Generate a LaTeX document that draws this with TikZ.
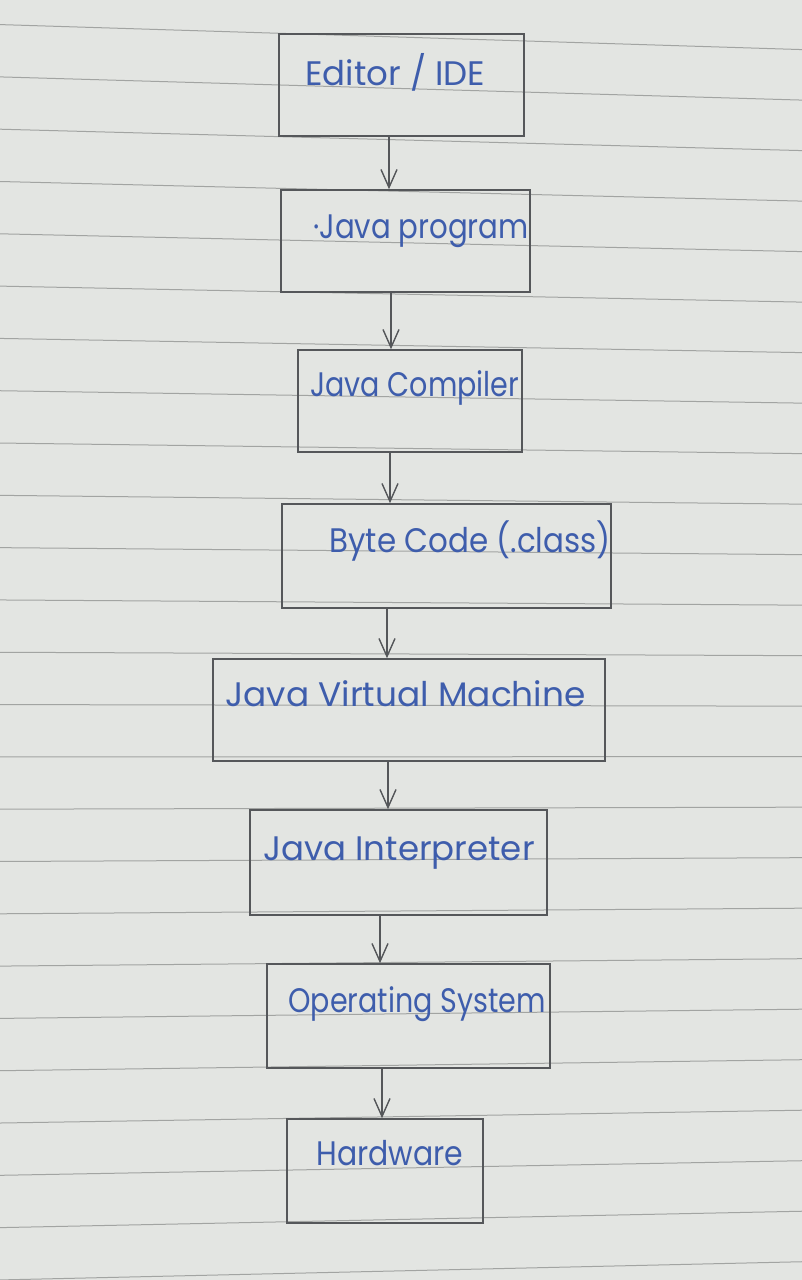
\documentclass[tikz,border=0pt]{standalone}
\usepackage{fontspec}
\usepackage{graphicx}
\setmainfont{Poppins}
\usetikzlibrary{arrows.meta,fit}
\definecolor{paper}{HTML}{E3E5E2}
\definecolor{ruling}{HTML}{A2A4A2}
\definecolor{pencil}{HTML}{55575A}
\definecolor{ink}{HTML}{3E5DAC}
\newcommand{\squeezed}[2]{\scalebox{#1}[1]{#2}}
\begin{document}
\begin{tikzpicture}[x=0.5pt,y=-0.5pt,
  box/.style={draw=pencil, line width=0.8pt, inner sep=0pt},
  inktext/.style={text=ink, font=\fontsize{17}{19}\selectfont, anchor=base west, inner sep=0pt},
  flow/.style={draw=pencil, line width=0.7pt, -{Straight Barb[length=9pt,width=8pt]}}]

% sheet of ruled paper
\fill[paper] (0,0) rectangle (802,1280);
\useasboundingbox (0,0) rectangle (802,1280);
\foreach \k in {0,...,24}{
  \pgfmathsetmacro\d{25-1.8*\k}
  \pgfmathsetmacro\yl{33+51.7*\k-\d*270/802}
  \draw[ruling, line width=0.5pt] (0,\yl) -- (802,\yl+\d);
}

% stages of the pipeline
\node[box, fit={(279,34) (524,136)}] (b1) {};
\node[box, fit={(281,190) (530,292)}] (b2) {};
\node[box, fit={(298,350) (522,452)}] (b3) {};
\node[box, fit={(282,504) (611,608)}] (b4) {};
\node[box, fit={(213,659) (605,761)}] (b5) {};
\node[box, fit={(250,810) (547,915)}] (b6) {};
\node[box, fit={(267,964) (550,1068)}] (b7) {};
\node[box, fit={(287,1119) (483,1223)}] (b8) {};

\node[inktext] (t1) at (305,85) {Editor / IDE};
\node[inktext] (t2) at (313,238) {\squeezed{0.86}{·Java program}};
\node[inktext] (t3) at (310,396) {\squeezed{0.84}{Java Compiler}};
\node[inktext] (t4) at (329,552) {\squeezed{0.91}{Byte Code (.class)}};
\node[inktext] (t5) at (225,706) {\squeezed{1.01}{Java Virtual Machine}};
\node[inktext] (t6) at (263,860) {Java Interpreter};
\node[inktext] (t7) at (288,1012) {\squeezed{0.84}{Operating System}};
\node[inktext] (t8) at (316,1165) {\squeezed{0.88}{Hardware}};

% connectors
\coordinate (a1) at (389,0);
\coordinate (a2) at (391,0);
\coordinate (a3) at (390,0);
\coordinate (a4) at (387,0);
\coordinate (a5) at (388,0);
\coordinate (a6) at (380,0);
\coordinate (a7) at (382,0);
\draw[flow] (b1.south -| a1) -- (b2.north -| a1);
\draw[flow] (b2.south -| a2) -- (b3.north -| a2);
\draw[flow] (b3.south -| a3) -- (b4.north -| a3);
\draw[flow] (b4.south -| a4) -- (b5.north -| a4);
\draw[flow] (b5.south -| a5) -- (b6.north -| a5);
\draw[flow] (b6.south -| a6) -- (b7.north -| a6);
\draw[flow] (b7.south -| a7) -- (b8.north -| a7);
\end{tikzpicture}
\end{document}
